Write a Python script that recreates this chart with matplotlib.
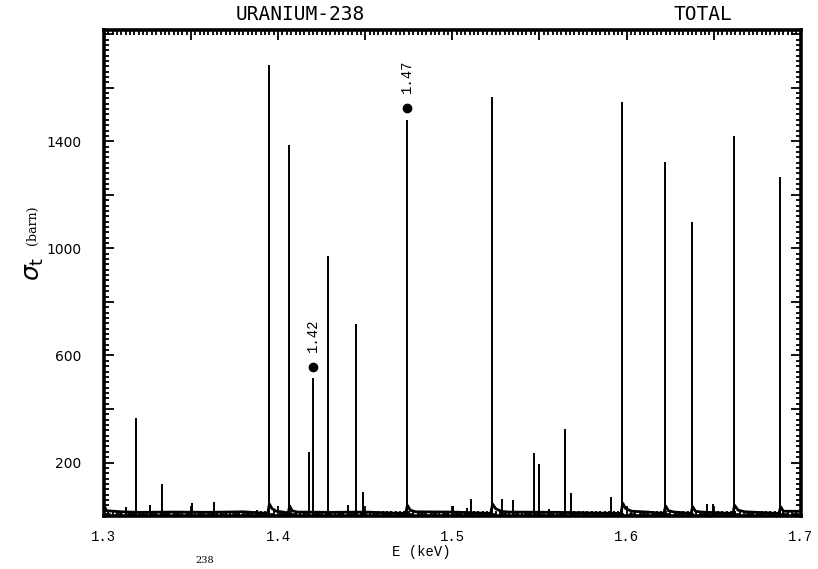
import matplotlib
matplotlib.use("Agg")
import matplotlib.pyplot as plt
from matplotlib.ticker import MultipleLocator, FuncFormatter
import numpy as np

# resonance peaks (energy in keV, cross section in barn)
peak_E = [1.3126, 1.3184, 1.3264, 1.3333, 1.3505, 1.3630, 1.3878, 1.3947,
          1.4062, 1.4177, 1.4200, 1.4287, 1.4400, 1.4446, 1.4487, 1.4739,
          1.5004, 1.5085, 1.5107, 1.5227, 1.5284, 1.5347, 1.5468, 1.5497,
          1.5554, 1.5646, 1.5680, 1.5910, 1.5974, 1.6220, 1.6375, 1.6462,
          1.6496, 1.6616, 1.6880]
peak_sigma = [34, 366, 41, 120, 48, 52, 22, 1686,
              1387, 239, 516, 972, 40, 718, 90, 1480,
              37, 30, 64, 1566, 64, 60, 236, 194,
              25, 325, 86, 71, 1548, 1323, 1100, 45,
              45, 1420, 1268]

# smooth background between resonances, with the shoulders after the big ones
bg_E = [1.3000, 1.3015, 1.3100, 1.3200, 1.3400, 1.3600, 1.3800, 1.3940,
        1.3950, 1.3965, 1.3990, 1.4030, 1.4058, 1.4066, 1.4080, 1.4110,
        1.4300, 1.4500, 1.4732, 1.4742, 1.4758, 1.4790, 1.5000, 1.5220,
        1.5231, 1.5248, 1.5280, 1.5320, 1.5600, 1.5968, 1.5978, 1.5995,
        1.6030, 1.6120, 1.6214, 1.6224, 1.6240, 1.6275, 1.6370, 1.6379,
        1.6395, 1.6430, 1.6610, 1.6620, 1.6640, 1.6680, 1.6875, 1.6884,
        1.6900, 1.7000]
bg_sigma = [40, 20, 16, 14, 15, 14, 16, 10,
            45, 28, 18, 15, 10, 38, 20, 15,
            14, 15, 10, 40, 22, 16, 15, 10,
            45, 28, 18, 15, 14, 10, 48, 28,
            18, 15, 10, 38, 20, 15, 10, 35,
            18, 15, 10, 40, 22, 16, 10, 35,
            18, 18]

dash_E = [1.300, 1.700]
dash_sigma = [7, 7]

marked_E = [1.4200, 1.4739]
marked_sigma = [557, 1525]
marked_text = ["1.42", "1.47"]

fig = plt.figure(figsize=(8.18, 5.69), dpi=100)
ax = fig.add_axes([0.127, 0.093, 0.852, 0.854])

ax.plot(bg_E, bg_sigma, color="black", lw=2.0)
ax.vlines(peak_E, 0, peak_sigma, color="black", lw=1.4)
ax.plot(dash_E, dash_sigma, color="black", lw=1.2, ls=(0, (4, 3)))

ax.plot(marked_E, marked_sigma, "o", color="black", ms=6)
for e, s, t in zip(marked_E, marked_sigma, marked_text):
    ax.text(e, s + 55, t, rotation=90, ha="center", va="bottom",
            family="Liberation Mono", fontsize=10)

ax.set_xlim(1.3, 1.7)
ax.set_ylim(0, 1815)

ax.xaxis.set_major_locator(MultipleLocator(0.05))
ax.xaxis.set_minor_locator(MultipleLocator(0.0025))
ax.yaxis.set_major_locator(MultipleLocator(200))
ax.yaxis.set_minor_locator(MultipleLocator(20))
ax.xaxis.set_major_formatter(FuncFormatter(
    lambda v, p: f"{v:.1f}" if abs(v * 10 - round(v * 10)) < 1e-6 else ""))
ax.yaxis.set_major_formatter(FuncFormatter(
    lambda v, p: f"{int(round(v))}"
    if int(round(v)) % 400 == 200 and v < 1500 else ""))

ax.tick_params(which="both", direction="in", top=True, right=True, width=1.3)
ax.tick_params(which="major", length=7)
ax.tick_params(which="minor", length=3.5)
ax.tick_params(axis="x", pad=10, labelsize=10)
ax.tick_params(axis="y", pad=16, labelsize=10)
for lab in ax.get_xticklabels():
    lab.set_family("Liberation Mono")
for sp in ax.spines.values():
    sp.set_linewidth(2.6)

fig.text(0.367, 0.975, "URANIUM-238", ha="center", va="center",
         family="DejaVu Sans Mono", fontsize=14)
fig.text(0.859, 0.975, "TOTAL", ha="center", va="center",
         family="DejaVu Sans Mono", fontsize=14)
fig.text(0.515, 0.03, "E (keV)", ha="center", va="center",
         family="Liberation Mono", fontsize=10)
fig.text(0.042, 0.528, r"$\sigma_{\rm t}$", rotation=90, ha="center",
         va="center", fontsize=18)
fig.text(0.04, 0.605, "(barn)", rotation=90, ha="center", va="center",
         family="DejaVu Serif", fontsize=9)
fig.text(0.25, 0.015, "238", ha="center", va="center",
         family="DejaVu Serif", fontsize=7)

fig.savefig("out.png", dpi=100)
